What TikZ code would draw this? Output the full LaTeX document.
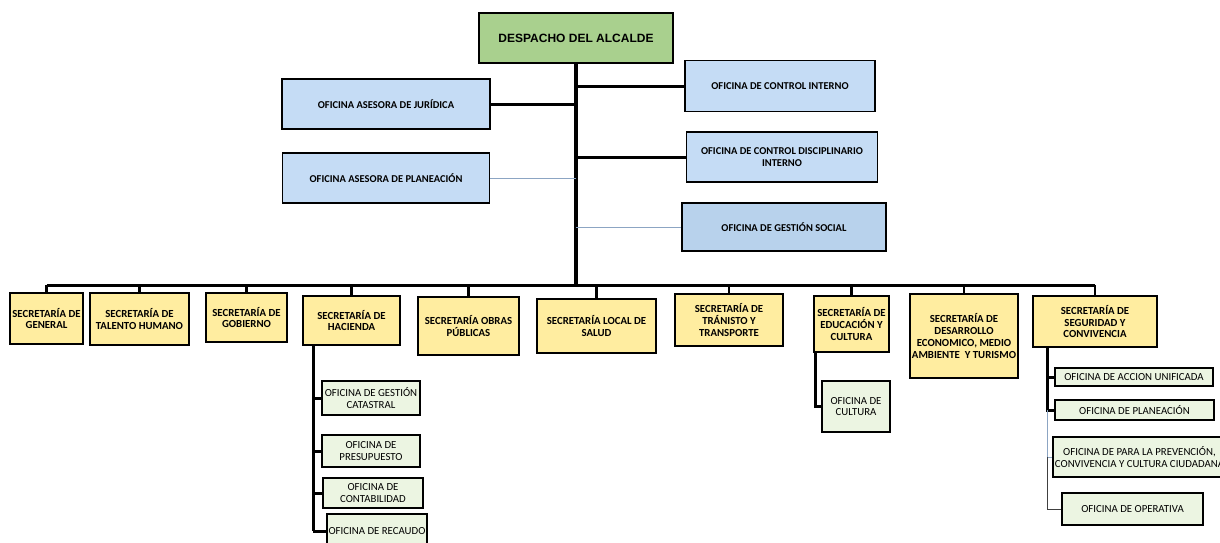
\documentclass[tikz,border=0pt]{standalone}
\usepackage{fontspec}
\setmainfont{Carlito}
\newfontfamily\arialfont{Liberation Sans}

\definecolor{verde}{RGB}{169,208,142}
\definecolor{azul}{RGB}{197,220,245}
\definecolor{azulsocial}{RGB}{184,210,236}
\definecolor{amarillo}{RGB}{255,237,160}
\definecolor{verdeclaro}{RGB}{236,245,226}
\definecolor{lineagris}{RGB}{140,165,195}

\begin{document}
\begin{tikzpicture}[x=1pt,y=-1pt,
            main node/.style={draw,line width=1.6pt,align=center,inner sep=1pt},
            ofi node/.style={main node,fill=azul,font=\fontsize{10.5}{12}\selectfont\bfseries},
            sec node/.style={main node,fill=amarillo,font=\fontsize{10.8}{11.8}\selectfont\bfseries},
            sub node/.style={main node,line width=1.4pt,fill=verdeclaro,font=\fontsize{10.8}{11.5}\selectfont},
            bigline/.style={line width=3pt},
            fineline/.style={line width=0.8pt,draw=lineagris}]

        \useasboundingbox (0,0) rectangle (1220,543);

        % Define vertices
        \node[main node,fill=verde,font=\arialfont\fontsize{12}{14}\selectfont\bfseries,
              minimum width=194pt,minimum height=50pt] (A) at (576,38) {DESPACHO DEL ALCALDE};

        \node[ofi node,minimum width=208pt,minimum height=50pt] (J) at (386,104) {OFICINA ASESORA DE JURÍDICA};
        \node[ofi node,minimum width=207pt,minimum height=50pt] (P) at (386,178) {OFICINA ASESORA DE PLANEACIÓN};
        \node[ofi node,minimum width=190pt,minimum height=51pt] (CI) at (780,86) {OFICINA DE CONTROL INTERNO};
        \node[ofi node,minimum width=191pt,minimum height=50pt] (CD) at (782,157) {OFICINA DE CONTROL DISCIPLINARIO\\INTERNO};
        \node[ofi node,fill=azulsocial,minimum width=204pt,minimum height=48pt] (GS) at (784,227) {OFICINA DE GESTIÓN SOCIAL};

        \node[sec node,minimum width=73pt,minimum height=51pt] (G) at (46.5,318.5) {SECRETARÍA DE\\GENERAL};
        \node[sec node,minimum width=99pt,minimum height=52pt] (TH) at (139.5,319) {SECRETARÍA DE\\TALENTO HUMANO};
        \node[sec node,minimum width=81pt,minimum height=49pt] (GO) at (246.5,317.5) {SECRETARÍA DE\\GOBIERNO};
        \node[sec node,minimum width=97pt,minimum height=49pt] (H) at (351.5,320.5) {SECRETARÍA DE\\HACIENDA};
        \node[sec node,minimum width=101pt,minimum height=58pt] (OP) at (468.5,326) {SECRETARÍA OBRAS\\PÚBLICAS};
        \node[sec node,minimum width=119pt,minimum height=54pt] (LS) at (596.5,326) {SECRETARÍA LOCAL DE\\SALUD};
        \node[sec node,minimum width=108pt,minimum height=52pt] (TT) at (729,320) {SECRETARÍA DE\\TRÁNISTO Y\\TRANSPORTE};
        \node[sec node,minimum width=75pt,minimum height=56pt] (EC) at (851.5,324) {SECRETARÍA DE\\EDUCACIÓN Y\\CULTURA};
        \node[sec node,minimum width=108pt,minimum height=84pt] (DE) at (964,336) {SECRETARÍA DE\\DESARROLLO\\ECONOMICO, MEDIO\\AMBIENTE\ \ Y TURISMO};
        \node[sec node,minimum width=124pt,minimum height=51pt] (SC) at (1095,321.5) {SECRETARÍA DE\\SEGURIDAD Y\\CONVIVENCIA};

        \node[sub node,minimum width=98pt,minimum height=34pt] (GC) at (371,398) {OFICINA DE GESTIÓN\\CATASTRAL};
        \node[sub node,minimum width=98pt,minimum height=32pt] (PR) at (371,451) {OFICINA DE\\PRESUPUESTO};
        \node[sub node,minimum width=100pt,minimum height=30pt] (CO) at (373,493) {OFICINA DE\\CONTABILIDAD};
        \node[sub node,minimum width=100pt,minimum height=34pt] (RE) at (377,531) {OFICINA DE RECAUDO};

        \node[sub node,minimum width=68pt,minimum height=51pt] (CU) at (856,406.5) {OFICINA DE\\CULTURA};

        \node[sub node,minimum width=158pt,minimum height=18pt] (AU) at (1134,377) {OFICINA DE ACCION UNIFICADA};
        \node[sub node,minimum width=159pt,minimum height=20pt] (PL) at (1134.5,410) {OFICINA DE PLANEACIÓN};
        \node[sub node,minimum width=173pt,minimum height=40pt] (PV) at (1139.5,457) {OFICINA DE PARA LA PREVENCIÓN,\\CONVIVENCIA Y CULTURA CIUDADANA};
        \node[sub node,minimum width=141pt,minimum height=32pt] (OPE) at (1132.5,509) {OFICINA DE OPERATIVA};

        \coordinate (bus) at (577,285);
        \coordinate (hac) at (313,345);
        \coordinate (edu) at (815,352);
        \coordinate (seg) at (1047,347);

        % Draw edges
        \draw[line width=3.5pt] (A.south) -- (A.south |- bus);
        \draw[bigline] (J.east) -- (J.east -| A.south);
        \draw[bigline] (CI.west) -- (CI.west -| A.south);
        \draw[bigline] (CD.west) -- (CD.west -| A.south);
        \draw[fineline] (P.east) -- (P.east -| A.south);
        \draw[fineline] (GS.west) -- (GS.west -| A.south);

        \draw[bigline] (G.north |- bus) -- (SC.north |- bus);
        \foreach \s in {G,TH,GO,H,OP,LS,TT,EC,DE,SC}
            \draw[line width=2.4pt] (\s.north) -- (\s.north |- bus);

        \draw[bigline] (hac) -- (hac |- RE.west);
        \foreach \s in {GC,PR,CO,RE}
            \draw[bigline] (\s.west) -- (\s.west -| hac);

        \draw[bigline] (edu) |- (CU.west);

        \draw[bigline] (seg) |- (PL.west);
        \draw[bigline] (AU.west) -- (AU.west -| seg);
        \draw[fineline] (seg |- PL.west) |- (PV.west);
        \draw[line width=0.8pt,darkgray] (seg |- PV.west) |- (OPE.west);

        \end{tikzpicture}
\end{document}
